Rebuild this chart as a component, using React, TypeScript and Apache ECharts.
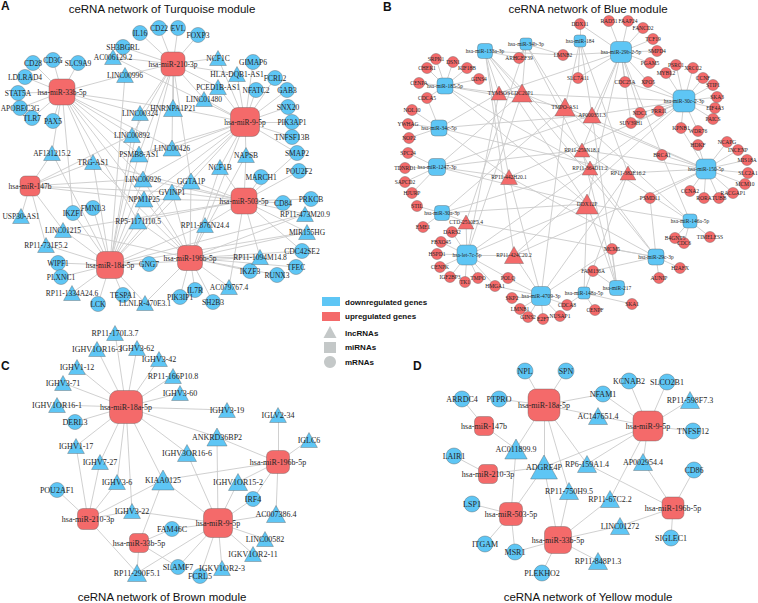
import React, { useEffect, useRef } from 'react';
import * as echarts from 'echarts';

const UP = '#F46A6A';
const DOWN = '#5EC6F5';
const LEGEND_GRAY = '#C4C8C8';
const EDGE = '#CBCBCB';

// ================= Panel A : Turquoise module =================
const titleA = 'ceRNA network of Turquoise module';
const miRNAsA = ['hsa-miR-33b-5p', 'hsa-miR-210-3p', 'hsa-miR-9-5p', 'hsa-miR-147b', 'hsa-miR-503-5p', 'hsa-miR-18a-5p', 'hsa-miR-196b-5p'];
const lncRNAsA = ['AC006129.2', 'LINC00996', 'HNRNPA1P21', 'LINC00324', 'LINC00892', 'LINC00426', 'NCF1C', 'HLA-DQB1-AS1', 'PCED1B-AS1', 'LINC01480', 'AF131215.2', 'TRG-AS1', 'PSMB8-AS1', 'LINC00926', 'GVINP1', 'GGTA1P', 'NPM1P25', 'USP30-AS1', 'RP5-1171I10.5', 'LINC01215', 'RP11-731F5.2', 'RP11-1334A24.6', 'LLNLR-470E3.1', 'NAPSB', 'NCF1B', 'RP11-473M20.9', 'RP11-876N24.4', 'MIR155HG', 'RP11-1094M14.8', 'AC079767.4'];
const mRNAsA = ['CD28', 'CD3G', 'SLC9A9', 'LDLRAD4', 'STAT5A', 'APOBEC3G', 'TLR7', 'PAX5', 'IL16', 'CD22', 'EVL', 'SH3BGRL', 'FOXP3', 'GIMAP6', 'FCRL2', 'NFATC2', 'GAB3', 'SNX20', 'PIK3AP1', 'TNFSF13B', 'SMAP2', 'POU2F2', 'MARCH1', 'CD84', 'PRKCB', 'CDC42SE2', 'TFEC', 'IKZF3', 'RUNX3', 'IL7R', 'PIK3IP1', 'SH2B3', 'FMNL3', 'IKZF1', 'WIPF1', 'PLXNC1', 'GNG7', 'TESPA1', 'LCK'];
const targetsA: Record<string, string[]> = {
  'hsa-miR-33b-5p': ['CD28', 'CD3G', 'SLC9A9', 'LDLRAD4', 'STAT5A', 'APOBEC3G', 'TLR7', 'PAX5', 'LINC00996', 'LINC00324', 'LINC00892', 'TRG-AS1', 'AF131215.2', 'LINC00926', 'HNRNPA1P21', 'PSMB8-AS1', 'LINC00426', 'NPM1P25', 'RP5-1171I10.5', 'IKZF1'],
  'hsa-miR-210-3p': ['IL16', 'CD22', 'EVL', 'SH3BGRL', 'FOXP3', 'NCF1C', 'AC006129.2', 'LINC00996', 'HLA-DQB1-AS1', 'PCED1B-AS1', 'LINC01480', 'HNRNPA1P21', 'LINC00324', 'LINC00892', 'LINC00426', 'PSMB8-AS1', 'GGTA1P', 'LINC00926'],
  'hsa-miR-9-5p': ['GIMAP6', 'FCRL2', 'NFATC2', 'GAB3', 'SNX20', 'PIK3AP1', 'TNFSF13B', 'HLA-DQB1-AS1', 'PCED1B-AS1', 'LINC01480', 'NCF1C', 'NAPSB', 'NCF1B', 'GGTA1P', 'GVINP1', 'LINC00426', 'HNRNPA1P21', 'LINC00926', 'NPM1P25', 'PSMB8-AS1', 'AC006129.2', 'RP11-876N24.4', 'SMAP2'],
  'hsa-miR-147b': ['AF131215.2', 'USP30-AS1', 'RP11-731F5.2', 'TRG-AS1', 'LINC00926', 'GVINP1', 'NPM1P25', 'LINC00892', 'LINC01215'],
  'hsa-miR-503-5p': ['SMAP2', 'POU2F2', 'MARCH1', 'CD84', 'PRKCB', 'RP11-473M20.9', 'MIR155HG', 'NAPSB', 'NCF1B', 'GGTA1P', 'RP11-876N24.4', 'GVINP1', 'LINC00926', 'NPM1P25', 'RP5-1171I10.5', 'TRG-AS1', 'CDC42SE2', 'RP11-1094M14.8', 'AC079767.4', 'LINC01215'],
  'hsa-miR-18a-5p': ['IKZF1', 'FMNL3', 'WIPF1', 'PLXNC1', 'GNG7', 'TESPA1', 'LCK', 'RP11-1334A24.6', 'LINC01215', 'RP11-731F5.2', 'LLNLR-470E3.1', 'RP5-1171I10.5', 'NPM1P25', 'LINC00926', 'GVINP1', 'TRG-AS1', 'AF131215.2', 'LINC00892', 'PSMB8-AS1', 'LINC00324', 'LINC00996', 'GGTA1P', 'RP11-876N24.4', 'RP11-1094M14.8', 'MIR155HG', 'RP11-473M20.9'],
  'hsa-miR-196b-5p': ['PIK3IP1', 'IL7R', 'SH2B3', 'IKZF3', 'RUNX3', 'TFEC', 'CDC42SE2', 'AC079767.4', 'RP11-1094M14.8', 'RP11-876N24.4', 'MIR155HG', 'RP11-473M20.9', 'LLNLR-470E3.1', 'RP5-1171I10.5', 'NPM1P25', 'GVINP1', 'GGTA1P', 'LINC00926', 'LINC01215', 'TRG-AS1', 'NCF1B', 'NAPSB'],
};

// ================= Panel B : Blue module =================
const titleB = 'ceRNA network of Blue module';
const miRNAsB = ['hsa-miR-133a-3p', 'hsa-miR-34b-3p', 'hsa-miR-184', 'hsa-miR-29b-2-5p', 'hsa-miR-185-5p', 'hsa-miR-34c-5p', 'hsa-miR-30c-2-3p', 'hsa-miR-1247-3p', 'hsa-miR-30a-3p', 'hsa-miR-150-5p', 'hsa-miR-146a-5p', 'hsa-let-7c-5p', 'hsa-miR-29c-3p', 'hsa-miR-217', 'hsa-miR-4709-3p', 'hsa-miR-148a-5p'];
const lncRNAsB = ['TYMSOS', 'CDC20P1', 'TMPO-AS1', 'AP000351.3', 'RP11-259N18.1', 'RP11-364D11.2', 'RP11-382E16.2', 'RP11-442H20.1', 'DDX12P', 'CTD-2510F5.4', 'RP11-424C20.2'];
const mRNAsB = ['SRPK1', 'DSN1', 'CHEK1', 'KIF18B', 'GINS4', 'CENPA', 'CDCA5', 'NOL10', 'YWHAG', 'NOP2', 'SPC24', 'TDNRD1', 'SAPCD2', 'HJURP', 'STIL', 'EME1', 'DARS2', 'FBXO45', 'HSPD1', 'CENPK', 'IGF2BP3', 'TK1', 'TMPO', 'HMGA1', 'POLQ', 'SKP2', 'LMNB1', 'GINS2', 'E2F7', 'NUSAP1', 'CDCA8', 'CENPF', 'SKA1', 'ARHGEF39', 'LMNB2', 'DDX11', 'RAD51', 'FAAP24', 'FANCD2', 'TCF19', 'SMPD4', 'PGAM5', 'SLC7A11', 'CDC25A', 'XPO5', 'MYBL2', 'PSRC1', 'XRCC2', 'CCNF', 'STIP1', 'SKA3', 'EIF4A3', 'PAICS', 'WDR76', 'KPNB1', 'PRR11', 'NDC1', 'SUV39H1', 'HDKF', 'NCAPG', 'INCENP', 'MIS18A', 'SLC2A1', 'MCM10', 'RACGAP1', 'TUBB', 'RORA', 'CCNA2', 'BRCA1', 'PSMD11', 'B4GNT5', 'CDC6', 'TIMELESS', 'MCM5', 'H2AFX', 'AUNIP', 'FAM136A'];
const targetsB: Record<string, string[]> = {
  'hsa-miR-133a-3p': ['ARHGEF39', 'LMNB2', 'TYMSOS', 'CDC20P1', 'RP11-442H20.1', 'RP11-259N18.1', 'DDX12P', 'RP11-424C20.2'],
  'hsa-miR-34b-3p': ['LMNB2', 'ARHGEF39', 'CDC20P1', 'TMPO-AS1', 'RP11-364D11.2', 'CTD-2510F5.4'],
  'hsa-miR-184': ['DDX11', 'SLC7A11', 'TMPO-AS1', 'AP000351.3', 'RP11-382E16.2'],
  'hsa-miR-29b-2-5p': ['RAD51', 'FAAP24', 'FANCD2', 'TCF19', 'SMPD4', 'PGAM5', 'CDC25A', 'XPO5', 'SUV39H1', 'NDC1', 'DDX11', 'LMNB2', 'SLC7A11', 'TYMSOS', 'AP000351.3', 'RP11-259N18.1', 'DDX12P', 'BRCA1'],
  'hsa-miR-185-5p': ['SRPK1', 'DSN1', 'CHEK1', 'KIF18B', 'GINS4', 'CENPA', 'CDCA5', 'TYMSOS', 'TMPO-AS1', 'RP11-364D11.2', 'DDX12P'],
  'hsa-miR-34c-5p': ['NOL10', 'YWHAG', 'NOP2', 'CDCA5', 'TYMSOS', 'AP000351.3', 'RP11-442H20.1', 'RP11-382E16.2'],
  'hsa-miR-30c-2-3p': ['PSRC1', 'XRCC2', 'MYBL2', 'CCNF', 'STIP1', 'SKA3', 'EIF4A3', 'PAICS', 'WDR76', 'KPNB1', 'PRR11', 'NDC1', 'CDC25A', 'XPO5', 'SUV39H1', 'TYMSOS', 'AP000351.3', 'RP11-442H20.1', 'RP11-364D11.2', 'RP11-424C20.2'],
  'hsa-miR-1247-3p': ['SPC24', 'TDNRD1', 'SAPCD2', 'HJURP', 'CDC20P1', 'AP000351.3', 'RP11-442H20.1', 'RP11-259N18.1', 'DDX12P'],
  'hsa-miR-30a-3p': ['STIL', 'EME1', 'TMPO-AS1', 'RP11-364D11.2', 'DDX12P', 'CTD-2510F5.4'],
  'hsa-miR-150-5p': ['HDKF', 'NCAPG', 'INCENP', 'MIS18A', 'SLC2A1', 'MCM10', 'RACGAP1', 'TUBB', 'RORA', 'CCNA2', 'BRCA1', 'PSMD11', 'KPNB1', 'CDC20P1', 'TMPO-AS1', 'RP11-259N18.1', 'RP11-382E16.2', 'RP11-424C20.2'],
  'hsa-miR-146a-5p': ['B4GNT5', 'CDC6', 'TIMELESS', 'BRCA1', 'TMPO-AS1', 'RP11-259N18.1', 'DDX12P'],
  'hsa-let-7c-5p': ['DARS2', 'FBXO45', 'HSPD1', 'CENPK', 'IGF2BP3', 'TK1', 'TMPO', 'HMGA1', 'POLQ', 'TYMSOS', 'CDC20P1', 'RP11-364D11.2', 'DDX12P', 'CTD-2510F5.4', 'RP11-424C20.2'],
  'hsa-miR-29c-3p': ['H2AFX', 'AUNIP', 'MCM5', 'PSMD11', 'FAM136A', 'CDC20P1', 'RP11-442H20.1', 'RP11-364D11.2', 'CTD-2510F5.4'],
  'hsa-miR-217': ['FAM136A', 'MCM5', 'AP000351.3', 'RP11-259N18.1', 'DDX12P'],
  'hsa-miR-4709-3p': ['SKP2', 'LMNB1', 'GINS2', 'E2F7', 'NUSAP1', 'CDCA8', 'HMGA1', 'POLQ', 'MCM5', 'TMPO-AS1', 'RP11-442H20.1', 'RP11-382E16.2', 'RP11-424C20.2'],
  'hsa-miR-148a-5p': ['CENPF', 'SKA1', 'CDCA8', 'RP11-382E16.2', 'DDX12P'],
};

// ================= Panel C : Brown module =================
const titleC = 'ceRNA network of Brown module';
const miRNAsC = ['hsa-miR-18a-5p', 'hsa-miR-196b-5p', 'hsa-miR-210-3p', 'hsa-miR-9-5p', 'hsa-miR-33b-5p'];
const lncRNAsC = ['RP11-170L3.7', 'IGHV1OR16-3', 'IGHV3-62', 'IGHV3-42', 'IGHV1-12', 'RP11-166P10.8', 'IGHV3-71', 'IGHV3-60', 'IGHV1OR16-1', 'IGHV3-19', 'IGLV2-34', 'ANKRD36BP2', 'IGLC6', 'IGHV1-17', 'IGHV3OR16-6', 'IGHV7-27', 'KIAA0125', 'IGHV1OR15-2', 'IGHV3-6', 'IGHV3-22', 'AC007386.4', 'LINC00582', 'IGKV1OR2-11', 'RP11-290F5.1', 'IGKV1OR2-3'];
const mRNAsC = ['DERL3', 'POU2AF1', 'IRF4', 'FAM46C', 'SLAMF7', 'FCRL5'];
const targetsC: Record<string, string[]> = {
  'hsa-miR-18a-5p': ['RP11-170L3.7', 'IGHV1OR16-3', 'IGHV3-62', 'IGHV3-42', 'IGHV1-12', 'RP11-166P10.8', 'IGHV3-71', 'IGHV3-60', 'IGHV1OR16-1', 'IGHV3-19', 'DERL3', 'ANKRD36BP2', 'IGHV1-17', 'IGHV7-27', 'IGHV3-6', 'IGHV3-22', 'KIAA0125', 'IGHV3OR16-6'],
  'hsa-miR-196b-5p': ['IGLV2-34', 'IGLC6', 'ANKRD36BP2', 'IGHV1OR15-2', 'AC007386.4', 'KIAA0125', 'IRF4'],
  'hsa-miR-210-3p': ['POU2AF1', 'IGHV1-17', 'IGHV7-27', 'IGHV3-6', 'KIAA0125', 'IGHV3-22', 'RP11-290F5.1'],
  'hsa-miR-9-5p': ['ANKRD36BP2', 'IGHV3OR16-6', 'KIAA0125', 'IGHV3-22', 'FAM46C', 'IRF4', 'AC007386.4', 'LINC00582', 'IGKV1OR2-11', 'IGKV1OR2-3', 'FCRL5', 'SLAMF7', 'RP11-290F5.1', 'IGHV1OR15-2'],
  'hsa-miR-33b-5p': ['KIAA0125', 'FAM46C', 'RP11-290F5.1', 'SLAMF7'],
};

// ================= Panel D : Yellow module =================
const titleD = 'ceRNA network of Yellow module';
const miRNAsD = ['hsa-miR-18a-5p', 'hsa-miR-147b', 'hsa-miR-9-5p', 'hsa-miR-210-3p', 'hsa-miR-503-5p', 'hsa-miR-33b-5p', 'hsa-miR-196b-5p'];
const lncRNAsD = ['AC147651.4', 'RP11-598F7.3', 'AC011899.9', 'ADGRE4P', 'RP6-159A1.4', 'AP002954.4', 'RP11-750H9.5', 'RP11-67C2.2', 'LINC01272', 'RP11-848P1.3'];
const mRNAsD = ['NPL', 'SPN', 'KCNAB2', 'SLCO2B1', 'ARRDC4', 'PTPRO', 'NFAM1', 'TNFSF12', 'LAIR1', 'CD86', 'LSP1', 'SIGLEC1', 'ITGAM', 'MSR1', 'PLEKHO2'];
const targetsD: Record<string, string[]> = {
  'hsa-miR-18a-5p': ['NPL', 'SPN', 'PTPRO', 'NFAM1', 'AC147651.4', 'AC011899.9', 'ADGRE4P', 'RP6-159A1.4', 'RP11-750H9.5'],
  'hsa-miR-147b': ['ARRDC4', 'AC011899.9'],
  'hsa-miR-9-5p': ['KCNAB2', 'SLCO2B1', 'RP11-598F7.3', 'TNFSF12', 'NFAM1', 'AC147651.4', 'ADGRE4P', 'RP6-159A1.4', 'AP002954.4', 'RP11-67C2.2'],
  'hsa-miR-210-3p': ['LAIR1', 'ADGRE4P'],
  'hsa-miR-503-5p': ['LSP1', 'ITGAM', 'MSR1', 'AC011899.9', 'ADGRE4P'],
  'hsa-miR-33b-5p': ['ADGRE4P', 'RP11-750H9.5', 'RP11-67C2.2', 'LINC01272', 'RP11-848P1.3', 'PLEKHO2', 'MSR1'],
  'hsa-miR-196b-5p': ['CD86', 'SIGLEC1', 'LINC01272', 'AP002954.4', 'RP6-159A1.4'],
};

const legendLabels = ['downregulated genes', 'upregulated genes', 'lncRNAs', 'miRNAs', 'mRNAs'];

// ================= Layout (node placement, px) =================
const layoutA: Record<string, [number, number]> = {
  'hsa-miR-33b-5p': [62, 92], 'hsa-miR-210-3p': [173, 64], 'hsa-miR-9-5p': [245, 122], 'hsa-miR-147b': [30, 186],
  'hsa-miR-503-5p': [244, 201], 'hsa-miR-18a-5p': [110, 265], 'hsa-miR-196b-5p': [190, 258],
  'AC006129.2': [113, 57], 'LINC00996': [125, 75], 'HNRNPA1P21': [173, 108], 'LINC00324': [140, 113], 'LINC00892': [132, 135],
  'LINC00426': [172, 148], 'NCF1C': [218, 58], 'HLA-DQB1-AS1': [237, 74], 'PCED1B-AS1': [218, 87], 'LINC01480': [204, 99],
  'AF131215.2': [52, 153], 'TRG-AS1': [93, 162], 'PSMB8-AS1': [139, 154], 'LINC00926': [143, 179], 'GVINP1': [172, 192],
  'GGTA1P': [191, 181], 'NPM1P25': [144, 199], 'USP30-AS1': [21, 216], 'RP5-1171I10.5': [138, 221], 'LINC01215': [63, 230],
  'RP11-731F5.2': [46, 245], 'RP11-1334A24.6': [72, 293], 'LLNLR-470E3.1': [145, 303], 'NAPSB': [246, 155], 'NCF1B': [220, 167],
  'RP11-473M20.9': [305, 214], 'RP11-876N24.4': [205, 225], 'MIR155HG': [307, 232], 'RP11-1094M14.8': [260, 257], 'AC079767.4': [229, 287],
  'CD28': [33, 63], 'CD3G': [53, 60], 'SLC9A9': [78, 63], 'LDLRAD4': [25, 77], 'STAT5A': [18, 93], 'APOBEC3G': [20, 108],
  'TLR7': [32, 118], 'PAX5': [53, 121], 'IL16': [140, 33], 'CD22': [159, 28], 'EVL': [178, 28], 'SH3BGRL': [123, 47],
  'FOXP3': [198, 35], 'GIMAP6': [253, 62], 'FCRL2': [275, 78], 'NFATC2': [256, 90], 'GAB3': [287, 90], 'SNX20': [288, 107],
  'PIK3AP1': [292, 122], 'TNFSF13B': [292, 137], 'SMAP2': [297, 153], 'POU2F2': [299, 171], 'MARCH1': [261, 177], 'CD84': [283, 203],
  'PRKCB': [311, 199], 'CDC42SE2': [302, 251], 'TFEC': [296, 267], 'IKZF3': [250, 271], 'RUNX3': [277, 275], 'IL7R': [195, 290],
  'PIK3IP1': [180, 297], 'SH2B3': [213, 302], 'FMNL3': [93, 208], 'IKZF1': [73, 213], 'WIPF1': [58, 263], 'PLXNC1': [61, 277],
  'GNG7': [149, 264], 'TESPA1': [123, 295], 'LCK': [98, 304],
};
const layoutB: Record<string, [number, number]> = {
  'hsa-miR-133a-3p': [485, 51], 'hsa-miR-34b-3p': [526, 44], 'hsa-miR-184': [580, 41], 'hsa-miR-29b-2-5p': [621, 52],
  'hsa-miR-185-5p': [445, 86], 'hsa-miR-34c-5p': [439, 128], 'hsa-miR-30c-2-3p': [684, 101], 'hsa-miR-1247-3p': [437, 167],
  'hsa-miR-30a-3p': [442, 213], 'hsa-miR-150-5p': [706, 169], 'hsa-miR-146a-5p': [690, 221], 'hsa-let-7c-5p': [467, 255],
  'hsa-miR-29c-3p': [656, 257], 'hsa-miR-217': [617, 288], 'hsa-miR-4709-3p': [541, 296], 'hsa-miR-148a-5p': [584, 293],
  'TYMSOS': [499, 93], 'CDC20P1': [522, 93], 'TMPO-AS1': [565, 107], 'AP000351.3': [592, 115], 'RP11-259N18.1': [582, 150],
  'RP11-364D11.2': [590, 168], 'RP11-382E16.2': [628, 173], 'RP11-442H20.1': [509, 177], 'DDX12P': [587, 204],
  'CTD-2510F5.4': [466, 222], 'RP11-424C20.2': [514, 255],
  'SRPK1': [436, 59], 'DSN1': [453, 62], 'CHEK1': [427, 68], 'KIF18B': [467, 68], 'GINS4': [479, 79], 'CENPA': [419, 83],
  'CDCA5': [427, 98], 'NOL10': [412, 110], 'YWHAG': [408, 124], 'NOP2': [409, 138], 'SPC24': [408, 153], 'TDNRD1': [405, 168],
  'SAPCD2': [405, 182], 'HJURP': [412, 193], 'STIL': [417, 206], 'EME1': [423, 227], 'DARS2': [452, 232], 'FBXO45': [441, 242],
  'HSPD1': [437, 254], 'CENPK': [440, 267], 'IGF2BP3': [450, 277], 'TK1': [465, 282], 'TMPO': [478, 278], 'HMGA1': [495, 286],
  'POLQ': [508, 278], 'SKP2': [512, 298], 'LMNB1': [520, 309], 'GINS2': [528, 317], 'E2F7': [543, 319], 'NUSAP1': [560, 316],
  'CDCA8': [567, 305], 'CENPF': [595, 310], 'SKA1': [632, 304], 'ARHGEF39': [519, 58], 'LMNB2': [563, 55], 'DDX11': [580, 24],
  'RAD51': [609, 21], 'FAAP24': [628, 21], 'FANCD2': [643, 28], 'TCF19': [653, 39], 'SMPD4': [657, 51], 'PGAM5': [650, 63],
  'SLC7A11': [578, 78], 'CDC25A': [625, 82], 'XPO5': [648, 82], 'MYBL2': [666, 73], 'PSRC1': [676, 65], 'XRCC2': [693, 68],
  'CCNF': [703, 78], 'STIP1': [713, 85], 'SKA3': [717, 97], 'EIF4A3': [715, 108], 'PAICS': [713, 119], 'WDR76': [698, 131],
  'KPNB1': [681, 128], 'PRR11': [659, 111], 'NDC1': [640, 113], 'SUV39H1': [631, 123], 'HDKF': [698, 145], 'NCAPG': [727, 142],
  'INCENP': [738, 150], 'MIS18A': [747, 160], 'SLC2A1': [748, 173], 'MCM10': [745, 184], 'RACGAP1': [733, 193], 'TUBB': [719, 198],
  'RORA': [704, 198], 'CCNA2': [690, 191], 'BRCA1': [662, 155], 'PSMD11': [650, 198], 'B4GNT5': [675, 238], 'CDC6': [684, 243],
  'TIMELESS': [710, 237], 'MCM5': [612, 249], 'H2AFX': [680, 268], 'AUNIP': [659, 278], 'FAM136A': [593, 271],
};
const layoutC: Record<string, [number, number]> = {
  'hsa-miR-18a-5p': [126, 407], 'hsa-miR-196b-5p': [278, 462], 'hsa-miR-210-3p': [88, 519], 'hsa-miR-9-5p': [218, 523], 'hsa-miR-33b-5p': [139, 543],
  'RP11-170L3.7': [115, 333], 'IGHV1OR16-3': [97, 349], 'IGHV3-62': [137, 348], 'IGHV3-42': [159, 359], 'IGHV1-12': [77, 367],
  'RP11-166P10.8': [173, 376], 'IGHV3-71': [63, 383], 'IGHV3-60': [180, 393], 'IGHV1OR16-1': [57, 405], 'IGHV3-19': [227, 410],
  'IGLV2-34': [278, 415], 'ANKRD36BP2': [217, 437], 'IGLC6': [309, 440], 'IGHV1-17': [76, 446], 'IGHV3OR16-6': [187, 453],
  'IGHV7-27': [100, 462], 'KIAA0125': [163, 480], 'IGHV1OR15-2': [238, 482], 'IGHV3-6': [117, 482], 'IGHV3-22': [132, 511],
  'AC007386.4': [276, 514], 'LINC00582': [265, 539], 'IGKV1OR2-11': [253, 554], 'RP11-290F5.1': [137, 573], 'IGKV1OR2-3': [222, 568],
  'DERL3': [75, 422], 'POU2AF1': [57, 490], 'IRF4': [253, 499], 'FAM46C': [172, 529], 'SLAMF7': [178, 567], 'FCRL5': [200, 576],
};
const layoutD: Record<string, [number, number]> = {
  'hsa-miR-18a-5p': [544, 405], 'hsa-miR-147b': [484, 426], 'hsa-miR-9-5p': [648, 426], 'hsa-miR-210-3p': [488, 474],
  'hsa-miR-503-5p': [511, 514], 'hsa-miR-33b-5p': [558, 540], 'hsa-miR-196b-5p': [673, 508],
  'AC147651.4': [598, 416], 'RP11-598F7.3': [690, 400], 'AC011899.9': [516, 449], 'ADGRE4P': [544, 467], 'RP6-159A1.4': [587, 464],
  'AP002954.4': [643, 462], 'RP11-750H9.5': [569, 491], 'RP11-67C2.2': [610, 499], 'LINC01272': [620, 526], 'RP11-848P1.3': [598, 561],
  'NPL': [525, 371], 'SPN': [566, 371], 'KCNAB2': [629, 381], 'SLCO2B1': [667, 382], 'ARRDC4': [462, 399], 'PTPRO': [499, 399],
  'NFAM1': [603, 394], 'TNFSF12': [693, 431], 'LAIR1': [454, 456], 'CD86': [694, 470], 'LSP1': [472, 504], 'SIGLEC1': [671, 538],
  'ITGAM': [485, 544], 'MSR1': [515, 552], 'PLEKHO2': [542, 573],
};

// ================= Node sizing (px) =================
const miSizeA: Record<string, number> = { 'hsa-miR-33b-5p': 26, 'hsa-miR-210-3p': 24, 'hsa-miR-9-5p': 29, 'hsa-miR-147b': 20, 'hsa-miR-503-5p': 26, 'hsa-miR-18a-5p': 27, 'hsa-miR-196b-5p': 25 };
const miSizeB: Record<string, number> = { 'hsa-miR-133a-3p': 15, 'hsa-miR-34b-3p': 12, 'hsa-miR-184': 12, 'hsa-miR-29b-2-5p': 21, 'hsa-miR-185-5p': 16, 'hsa-miR-34c-5p': 16, 'hsa-miR-30c-2-3p': 22, 'hsa-miR-1247-3p': 17, 'hsa-miR-30a-3p': 15, 'hsa-miR-150-5p': 20, 'hsa-miR-146a-5p': 14, 'hsa-let-7c-5p': 20, 'hsa-miR-29c-3p': 16, 'hsa-miR-217': 15, 'hsa-miR-4709-3p': 19, 'hsa-miR-148a-5p': 12 };
const miSizeC: Record<string, number> = { 'hsa-miR-18a-5p': 33, 'hsa-miR-196b-5p': 23, 'hsa-miR-210-3p': 21, 'hsa-miR-9-5p': 29, 'hsa-miR-33b-5p': 19 };
const miSizeD: Record<string, number> = { 'hsa-miR-18a-5p': 32, 'hsa-miR-147b': 19, 'hsa-miR-9-5p': 30, 'hsa-miR-210-3p': 19, 'hsa-miR-503-5p': 23, 'hsa-miR-33b-5p': 27, 'hsa-miR-196b-5p': 22 };
const lncSizeA: Record<string, number> = { 'HNRNPA1P21': 17, 'PSMB8-AS1': 16, 'LINC00926': 16, 'GVINP1': 16, 'NPM1P25': 16, 'RP5-1171I10.5': 16, 'GGTA1P': 16, 'LINC00426': 16 };
const lncSizeB: Record<string, number> = { 'CDC20P1': 18, 'TMPO-AS1': 18, 'DDX12P': 20, 'RP11-424C20.2': 17, 'AP000351.3': 16, 'RP11-442H20.1': 15 };
const lncSizeC: Record<string, number> = { 'KIAA0125': 20, 'ANKRD36BP2': 18, 'IGHV3OR16-6': 17, 'IGHV1OR15-2': 17, 'RP11-290F5.1': 17, 'AC007386.4': 17 };
const lncSizeD: Record<string, number> = { 'ADGRE4P': 24, 'AC011899.9': 20 };

type Panel = {
  mi: string[]; lnc: string[]; m: string[]; targets: Record<string, string[]>;
  layout: Record<string, [number, number]>; miSize: Record<string, number>; lncSize: Record<string, number>;
  miUp: boolean; circle: number; tri: number; font: number;
};

const panels: Panel[] = [
  { mi: miRNAsA, lnc: lncRNAsA, m: mRNAsA, targets: targetsA, layout: layoutA, miSize: miSizeA, lncSize: lncSizeA, miUp: true, circle: 15, tri: 15, font: 7.5 },
  { mi: miRNAsB, lnc: lncRNAsB, m: mRNAsB, targets: targetsB, layout: layoutB, miSize: miSizeB, lncSize: lncSizeB, miUp: false, circle: 11, tri: 14, font: 5.5 },
  { mi: miRNAsC, lnc: lncRNAsC, m: mRNAsC, targets: targetsC, layout: layoutC, miSize: miSizeC, lncSize: lncSizeC, miUp: true, circle: 15, tri: 15, font: 8 },
  { mi: miRNAsD, lnc: lncRNAsD, m: mRNAsD, targets: targetsD, layout: layoutD, miSize: miSizeD, lncSize: lncSizeD, miUp: true, circle: 16, tri: 17, font: 8 },
];

function buildSeries(p: Panel) {
  const nodes: any[] = [];
  const miColor = p.miUp ? UP : DOWN;
  const otherColor = p.miUp ? DOWN : UP;
  const border = 'rgba(90,90,90,0.55)';
  const add = (name: string, kind: 'mi' | 'lnc' | 'm') => {
    const pos = p.layout[name];
    if (!pos) return;
    let symbol = 'circle';
    let size: any = p.circle;
    if (kind === 'mi') { symbol = 'roundRect'; const s = p.miSize[name] || 20; size = [s, s]; }
    else if (kind === 'lnc') { symbol = 'triangle'; const s = p.lncSize[name] || p.tri; size = [s * 1.12, s]; }
    nodes.push({
      name, value: pos, symbol, symbolSize: size,
      itemStyle: { color: kind === 'mi' ? miColor : otherColor, borderColor: border, borderWidth: 0.7 },
    });
  };
  p.m.forEach((n) => add(n, 'm'));
  p.lnc.forEach((n) => add(n, 'lnc'));
  p.mi.forEach((n) => add(n, 'mi'));
  const names = new Set(nodes.map((n) => n.name));
  const links: any[] = [];
  Object.keys(p.targets).forEach((mi) => {
    p.targets[mi].forEach((t) => {
      if (names.has(mi) && names.has(t)) links.push({ source: mi, target: t });
    });
  });
  return {
    type: 'graph', layout: 'none', coordinateSystem: 'cartesian2d', xAxisIndex: 0, yAxisIndex: 0,
    data: nodes, links, silent: true,
    lineStyle: { color: EDGE, width: 0.9, opacity: 1, curveness: 0 },
    label: {
      show: true, position: 'inside', fontFamily: '"Liberation Serif", "DejaVu Serif", serif', fontSize: p.font,
      color: '#262626', textBorderWidth: 0, textBorderColor: 'transparent', textShadowBlur: 0,
    },
    emphasis: { disabled: true },
  };
}

const sans = '"Liberation Sans", Arial, sans-serif';

function buildGraphics() {
  const g: any[] = [];
  const titles: [string, number, number][] = [[titleA, 162, 9], [titleB, 588, 9], [titleC, 162, 597], [titleD, 588, 597]];
  titles.forEach(([t, x, y]) => g.push({ type: 'text', x, y, style: { text: t, font: `11.5px ${sans}`, fill: '#111', align: 'center', verticalAlign: 'middle' } }));
  const letters: [string, number, number][] = [['A', 1, 6], ['B', 383, 7], ['C', 1, 366], ['D', 413, 366]];
  letters.forEach(([t, x, y]) => g.push({ type: 'text', x, y, style: { text: t, font: `bold 12px ${sans}`, fill: '#111', align: 'left', verticalAlign: 'middle' } }));
  // legend
  g.push({ type: 'rect', shape: { x: 322, y: 297, width: 18, height: 9 }, style: { fill: DOWN } });
  g.push({ type: 'rect', shape: { x: 322, y: 312, width: 18, height: 9 }, style: { fill: UP } });
  g.push({ type: 'polygon', shape: { points: [[330, 326], [336.5, 338], [323.5, 338]] }, style: { fill: LEGEND_GRAY } });
  g.push({ type: 'rect', shape: { x: 324, y: 342, width: 12, height: 11 }, style: { fill: LEGEND_GRAY } });
  g.push({ type: 'circle', shape: { cx: 330, cy: 362, r: 6 }, style: { fill: LEGEND_GRAY } });
  const ly = [302, 316.5, 333, 347.5, 362];
  legendLabels.forEach((t, i) => g.push({ type: 'text', x: 345, y: ly[i], style: { text: t, font: `bold 8px ${sans}`, fill: '#111', align: 'left', verticalAlign: 'middle' } }));
  return g;
}

const option: any = {
  animation: false,
  backgroundColor: '#ffffff',
  grid: { left: 0, top: 0, right: 0, bottom: 0, containLabel: false },
  xAxis: { type: 'value', min: 0, max: 758, show: false },
  yAxis: { type: 'value', min: 0, max: 603, inverse: true, show: false },
  series: panels.map(buildSeries),
  graphic: buildGraphics(),
};

export default function App() {
  const ref = useRef<HTMLDivElement>(null);
  useEffect(() => {
    const chart = echarts.init(ref.current as HTMLDivElement, null, { renderer: 'svg' });
    chart.setOption(option);
    return () => chart.dispose();
  }, []);
  return <div ref={ref} style={{ position: 'fixed', left: 0, top: 0, width: 758, height: 603, background: '#fff' }} />;
}
